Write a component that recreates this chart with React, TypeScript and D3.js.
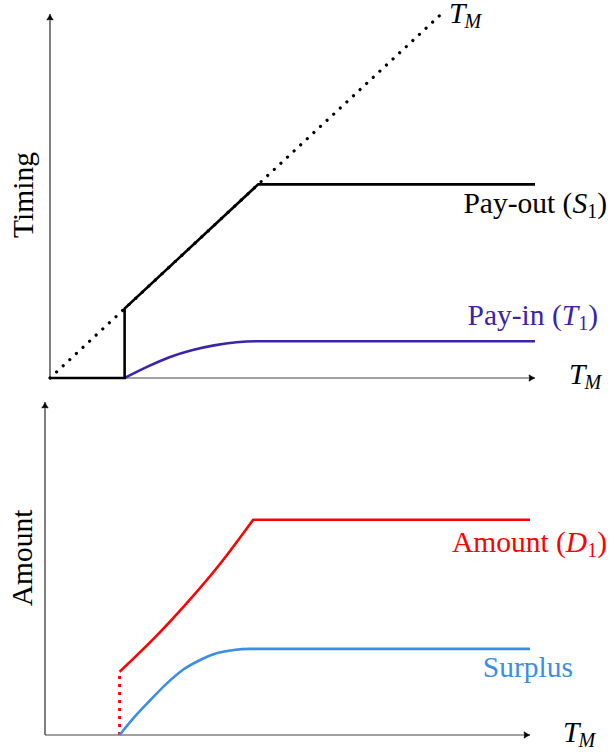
import React from "react";
import * as d3 from "d3";

// ---- data (abstract units) ----
const diagX = [0, 5.23];
const diagY = [0, 5.23];
const payoutX = [0, 1, 1, 2.79, 6.5];
const payoutY = [0, 0, 1, 2.79, 2.79];
const payinX = [1, 1.3, 1.6, 1.9, 2.2, 2.5, 2.79, 6.5];
const payinY = [0, 0.16, 0.3, 0.4, 0.47, 0.515, 0.53, 0.53];
const jumpX = [1, 1];
const jumpY = [0, 0.91];
const amountX = [1, 1.45, 1.9, 2.35, 2.79];
const amountY = [0.91, 1.38, 1.9, 2.47, 3.1];
const amountFlatX = [2.79, 6.5];
const amountFlatY = [3.1, 3.1];
const surplusX = [1, 1.2, 1.41, 1.63, 1.85, 2.08, 2.31, 2.53, 2.75, 6.5];
const surplusY = [0, 0.26, 0.5, 0.74, 0.94, 1.08, 1.18, 1.225, 1.24, 1.24];

const FONT = "Times New Roman";
const PURPLE = "#3a25a8";
const BLUE = "#3a8ee8";
const RED = "#ff0000";
const FS = 29.5;
const SUB = 20;

const zip = (xs: number[], ys: number[]) => xs.map((x, i) => [x, ys[i]] as [number, number]);

function Arrow({ x, y, dir }: { x: number; y: number; dir: "up" | "right" }) {
  const rot = dir === "up" ? -90 : 0;
  return (
    <path
      transform={`translate(${x},${y}) rotate(${rot})`}
      d="M -6 -3.2 Q -2.5 -0.8 0 0 Q -2.5 0.8 -6 3.2 Q -4.8 0 -6 -3.2 Z"
      fill="#000"
      stroke="#000"
      strokeWidth={0.6}
    />
  );
}

function TM({ x, y }: { x: number; y: number }) {
  return (
    <text x={x} y={y} fontFamily={FONT} fontSize={FS} fill="#000">
      <tspan fontStyle="italic">T</tspan>
      <tspan fontStyle="italic" fontSize={SUB} dx={-1} dy={5}>M</tspan>
    </text>
  );
}

export default function App() {
  const xT = d3.scaleLinear().domain([0, 6.5]).range([50, 535]);
  const yT = d3.scaleLinear().domain([0, 5.23]).range([378, 15]);
  const xB = d3.scaleLinear().domain([0, 6.5]).range([45, 530]);
  const yB = d3.scaleLinear().domain([0, 4.78]).range([735, 403]);

  const lineT = d3.line<[number, number]>().x((d) => xT(d[0])).y((d) => yT(d[1]));
  const lineTc = d3
    .line<[number, number]>()
    .x((d) => xT(d[0]))
    .y((d) => yT(d[1]))
    .curve(d3.curveMonotoneX);
  const lineB = d3.line<[number, number]>().x((d) => xB(d[0])).y((d) => yB(d[1]));
  const lineBc = d3
    .line<[number, number]>()
    .x((d) => xB(d[0]))
    .y((d) => yB(d[1]))
    .curve(d3.curveMonotoneX);
  const lineBr = d3
    .line<[number, number]>()
    .x((d) => xB(d[0]))
    .y((d) => yB(d[1]))
    .curve(d3.curveNatural);

  const amountPath =
    (lineBr(zip(amountX, amountY)) || "") +
    `L${xB(amountFlatX[1])},${yB(amountFlatY[1])}`;

  return (
    <div style={{ position: "absolute", left: 0, top: 0, width: 610, height: 753, overflow: "hidden" }}>
      <svg width={610} height={753}>
        <rect width={610} height={753} fill="#fff" />

        {/* ---------- top panel ---------- */}
        <line x1={xT(0)} y1={yT(0)} x2={xT(0)} y2={16} stroke="#000" strokeWidth={1} />
        <Arrow x={xT(0)} y={14} dir="up" />
        <line x1={xT(0)} y1={yT(0)} x2={xT(6.5) - 2} y2={yT(0)} stroke="#444" strokeWidth={1} />
        <Arrow x={xT(6.5)} y={yT(0)} dir="right" />

        <path
          d={lineT(zip(diagX, diagY)) || ""}
          fill="none"
          stroke="#000"
          strokeWidth={3.2}
          strokeLinecap="round"
          strokeDasharray="0.01 9"
        />
        <path d={lineTc(zip(payinX, payinY)) || ""} fill="none" stroke={PURPLE} strokeWidth={2.6} />
        <path
          d={lineT(zip(payoutX, payoutY)) || ""}
          fill="none"
          stroke="#000"
          strokeWidth={2.6}
          strokeLinejoin="miter"
        />

        <TM x={449} y={23} />
        <TM x={569} y={384} />
        <text x={607} y={213} textAnchor="end" fontFamily={FONT} fontSize={FS} fill="#000">
          Pay-out (<tspan fontStyle="italic">S</tspan>
          <tspan fontSize={SUB} dy={5}>1</tspan>
          <tspan dy={-5}>)</tspan>
        </text>
        <text x={598} y={325} textAnchor="end" fontFamily={FONT} fontSize={FS} fill={PURPLE}>
          Pay-in (<tspan fontStyle="italic">T</tspan>
          <tspan fontSize={SUB} dy={5}>1</tspan>
          <tspan dy={-5}>)</tspan>
        </text>
        <text
          transform="translate(33,195) rotate(-90)"
          textAnchor="middle"
          fontFamily={FONT}
          fontSize={FS}
          fill="#000"
        >
          Timing
        </text>

        {/* ---------- bottom panel ---------- */}
        <line x1={xB(0)} y1={yB(0)} x2={xB(0)} y2={404} stroke="#000" strokeWidth={1} />
        <Arrow x={xB(0)} y={402} dir="up" />
        <line x1={xB(0)} y1={yB(0)} x2={xB(6.5) - 2} y2={yB(0)} stroke="#444" strokeWidth={1} />
        <Arrow x={xB(6.5)} y={yB(0)} dir="right" />

        <path
          d={lineB(zip(jumpX, jumpY)) || ""}
          fill="none"
          stroke={RED}
          strokeWidth={3}
          strokeDasharray="3 5"
        />
        <path d={amountPath} fill="none" stroke={RED} strokeWidth={2.6} />
        <path d={lineBc(zip(surplusX, surplusY)) || ""} fill="none" stroke={BLUE} strokeWidth={2.6} />

        <TM x={563} y={742} />
        <text x={607} y={552} textAnchor="end" fontFamily={FONT} fontSize={FS} fill={RED}>
          Amount (<tspan fontStyle="italic">D</tspan>
          <tspan fontSize={SUB} dy={5}>1</tspan>
          <tspan dy={-5}>)</tspan>
        </text>
        <text x={573} y={677} textAnchor="end" fontFamily={FONT} fontSize={FS} fill={BLUE}>
          Surplus
        </text>
        <text
          transform="translate(32,558) rotate(-90)"
          textAnchor="middle"
          fontFamily={FONT}
          fontSize={FS}
          fill="#000"
        >
          Amount
        </text>
      </svg>
    </div>
  );
}
